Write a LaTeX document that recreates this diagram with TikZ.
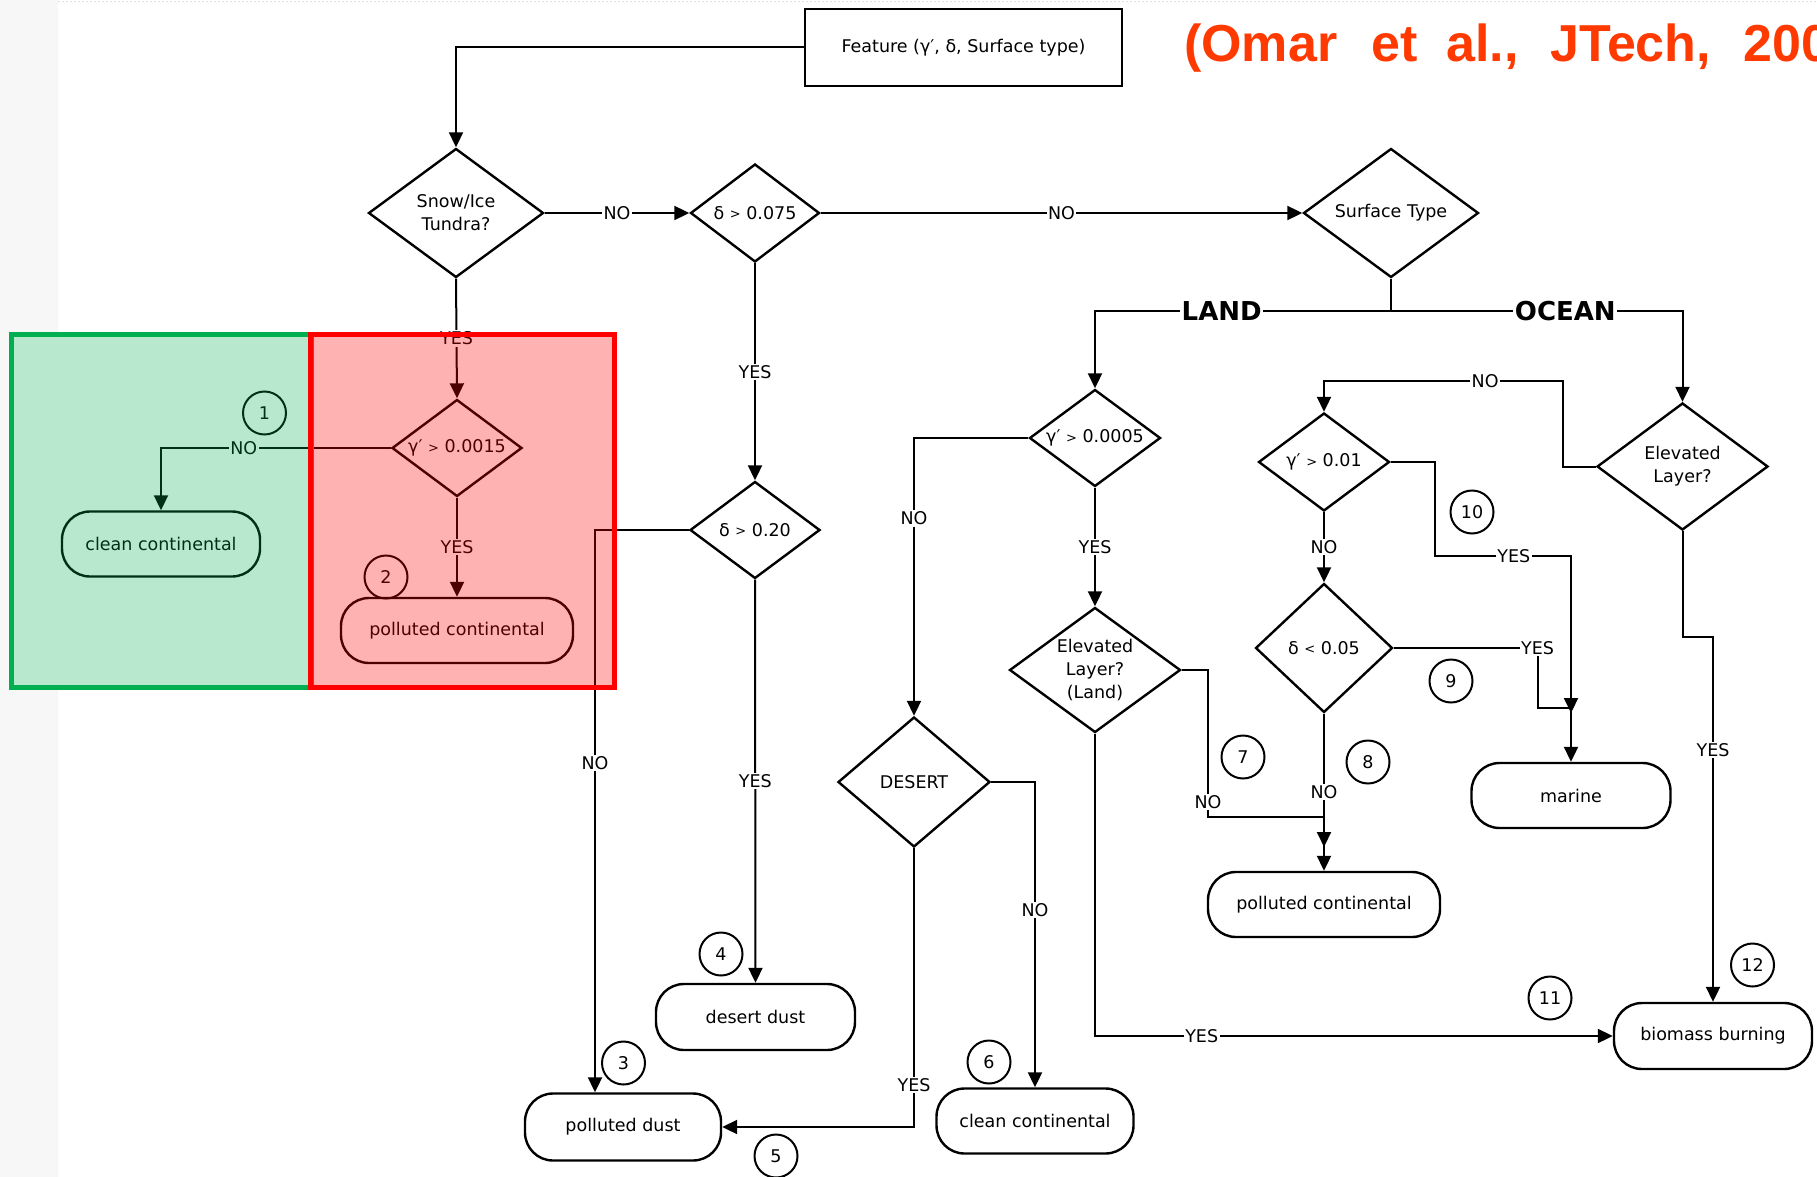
\documentclass[tikz,border=0pt]{standalone}
\usepackage{fontspec}
\setmainfont{DejaVu Sans}
\newfontfamily\citefont{Liberation Sans}
\usetikzlibrary{shapes.geometric,arrows.meta,calc}
\definecolor{citeorange}{RGB}{255,58,0}
\definecolor{boxgreen}{RGB}{0,176,80}
\definecolor{boxred}{RGB}{255,0,0}
% small comparison signs used inside the decision diamonds
\newcommand\cmpgt{\raisebox{0.5pt}{\fontsize{13}{13}\selectfont >}}
\newcommand\cmplt{\raisebox{0.5pt}{\fontsize{13}{13}\selectfont <}}
\begin{document}
\begin{tikzpicture}[x=1pt,y=-1pt,
  txt/.style={font=\fontsize{17.5}{23}\selectfont},
  dia/.style={draw, line width=2.4pt, shape=diamond, inner sep=0pt, align=center, txt},
  term/.style={draw, line width=2.4pt, rectangle, rounded corners=28pt, inner sep=0pt, txt},
  num/.style={draw, line width=2pt, circle, minimum size=43pt, inner sep=0pt, txt},
  wire/.style={line width=2pt},
  arr/.style={wire, -{Triangle[length=15pt,width=14pt]}},
  lbl/.style={fill=white, inner sep=1.5pt, txt},
  big/.style={fill=white, inner sep=1.5pt, font=\fontsize{26}{30}\selectfont\bfseries},
  cite/.style={anchor=base west, inner sep=0pt, text=citeorange, font=\citefont\bfseries\fontsize{52}{60}\selectfont},
  region/.style={line width=5pt}
]
\useasboundingbox (0,0) rectangle (1817,1177);
\fill[white] (0,0) rectangle (1817,1177);
% faint slide texture along the left and top edges
\fill[black!3] (0,0) rectangle (58,334) (0,687) rectangle (58,1177) (0,334) rectangle (9,687);
\draw[black!12, line width=1pt, dash pattern=on 2pt off 2pt] (58,1.5) -- (1817,1.5);

% citation
\begin{scope}
\clip (0,0) rectangle (1817,1177);
\node[cite] (c1) at (1184,62) {(Omar};
\node[cite] (c2) at (1371,62) {et};
\node[cite] (c3) at (1446,62) {al.,};
\node[cite] (c4) at (1550,62) {JTech,};
\node[cite] (c5) at (1743,62) {2009)};
\end{scope}

% input box
\node[draw, line width=2.4pt, minimum width=317pt, minimum height=77pt, inner sep=0pt, txt] (feat) at (963.5,47.5) {Feature (γ′, δ, Surface type)};

% decisions
\node[dia, minimum width=175pt, minimum height=129pt, shape aspect=1.36] (snow) at (456,213) {Snow/Ice\\Tundra?};
\node[dia, minimum width=129pt, minimum height=98pt, shape aspect=1.32] (d075) at (755,213) {δ \cmpgt{} 0.075};
\node[dia, minimum width=175pt, minimum height=129pt, shape aspect=1.36] (surf) at (1391,213) {Surface Type};
\node[dia, minimum width=130pt, minimum height=97pt, shape aspect=1.34] (g0015) at (457,448) {γ′ \cmpgt{} 0.0015};
\node[dia, minimum width=130pt, minimum height=97pt, shape aspect=1.34] (d020) at (755,530) {δ \cmpgt{} 0.20};
\node[dia, minimum width=131pt, minimum height=97pt, shape aspect=1.35] (g0005) at (1095,438) {γ′ \cmpgt{} 0.0005};
\node[dia, minimum width=171pt, minimum height=125pt, shape aspect=1.37] (elL) at (1095,670) {Elevated\\Layer?\\(Land)};
\node[dia, minimum width=152pt, minimum height=130pt, shape aspect=1.17] (desert) at (914,782) {DESERT};
\node[dia, minimum width=171pt, minimum height=127pt, shape aspect=1.35] (elO) at (1682.5,466.5) {Elevated\\Layer?};
\node[dia, minimum width=131pt, minimum height=98pt, shape aspect=1.34] (g001) at (1324,462) {γ′ \cmpgt{} 0.01};
\node[dia, minimum width=137pt, minimum height=129pt, shape aspect=1.06] (d005) at (1324,648) {δ \cmplt{} 0.05};

% aerosol types
\node[term, minimum width=198pt, minimum height=65pt] (cc1) at (161,544) {clean continental};
\node[term, minimum width=232pt, minimum height=65pt] (pc1) at (457,630.5) {polluted continental};
\node[term, minimum width=196pt, minimum height=67pt] (pd) at (623,1127) {polluted dust};
\node[term, minimum width=199pt, minimum height=66pt] (dd) at (755.5,1017) {desert dust};
\node[term, minimum width=197pt, minimum height=65pt] (cc2) at (1035,1121) {clean continental};
\node[term, minimum width=232pt, minimum height=65pt] (pc2) at (1324,904.5) {polluted continental};
\node[term, minimum width=199pt, minimum height=65pt] (marine) at (1571,795.5) {marine};
\node[term, minimum width=198pt, minimum height=66pt] (bb) at (1713,1036) {biomass burning};

% path numbers
\node[num] (n1) at (264.5,413) {1};
\node[num] (n2) at (386,577) {2};
\node[num] (n3) at (623.5,1063) {3};
\node[num] (n4) at (721,954) {4};
\node[num] (n5) at (776,1156) {5};
\node[num] (n6) at (989,1062) {6};
\node[num] (n7) at (1243,757) {7};
\node[num] (n8) at (1368,762) {8};
\node[num] (n9) at (1451,681) {9};
\node[num] (n10) at (1472,512) {10};
\node[num] (n11) at (1550,998) {11};
\node[num] (n12) at (1752.5,965) {12};

% connectors
\draw[arr] (feat.west) -| (snow.north);
\draw[arr] (snow.east) -- node[lbl]{NO} (d075.west);
\draw[arr] (d075.east) -- node[lbl]{NO} (surf.west);
\draw[arr] (d075.south) -- node[lbl]{YES} (d020.north);
\coordinate (split) at (1391,311);
\draw[wire] (surf.south) -- (split);
\draw[arr] (split) -| node[big,pos=0.286]{LAND} (g0005.north);
\draw[arr] (split) -| node[big,pos=0.299]{OCEAN} (elO.north);

\draw[arr] (snow.south) -- node[lbl]{YES} (g0015.north);
\draw[arr] (g0015.west) -| node[lbl,pos=0.32]{NO} (cc1.north);
\draw[arr] (g0015.south) -- node[lbl]{YES} (pc1.north);
\draw[arr] (d020.west) -| node[lbl,pos=0.707]{NO} ([xshift=-28pt]pd.north);
\draw[arr] (d020.south) -- node[lbl]{YES} (dd.north);

\draw[arr] (g0005.west) -| node[lbl,pos=0.645]{NO} (desert.north);
\draw[arr] (g0005.south) -- node[lbl]{YES} (elL.north);
\draw[arr] (desert.south) |- node[lbl,pos=0.424]{YES} (pd.east);
\draw[arr] (desert.east) -| node[lbl,pos=0.71]{NO} (cc2.north);
\draw[arr] (elL.south) |- node[lbl,pos=0.603]{YES} (bb.west);
\coordinate (merge) at (1324,847);
\draw[arr] (elL.east) -- (1208,670) -- node[lbl,pos=0.9]{NO} (1208,817) -| (merge);
\draw[arr] (d005.south) -- node[lbl]{NO} (pc2.north);

\draw[arr] (elO.west) -- (1563,466.5) -- (1563,381) -| node[lbl,pos=0.163]{NO} (g001.north);
\draw[arr] (g001.south) -- node[lbl]{NO} (d005.north);
\coordinate (mjoin) at (1571,713);
\draw[arr] (g001.east) -- (1435,462) |- node[lbl,pos=0.79]{YES} (1571,556) -- (mjoin);
\draw[arr] (d005.east) -- node[lbl,pos=1]{YES} (1537.5,648) -- (1537.5,708) -| (marine.north);
\draw[arr] (elO.south) |- (1713,637) -- node[lbl,pos=0.31]{YES} (bb.north);

% highlighted regions
\draw[region, draw=boxgreen, fill=boxgreen, fill opacity=0.28] (11,334) rectangle (311,687);
\draw[region, draw=boxred, fill=boxred, fill opacity=0.3] (310,334) rectangle (614,687);
\end{tikzpicture}
\end{document}
